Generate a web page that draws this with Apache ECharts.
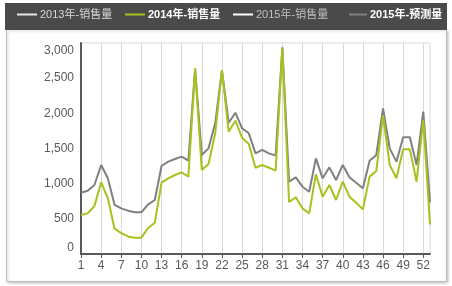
<!DOCTYPE html>
<html>
<head>
<meta charset="utf-8">
<script src="https://cdn.jsdelivr.net/npm/echarts@6/dist/echarts.min.js"></script>
<style>
html,body{margin:0;padding:0;background:#fff;}
#chart{width:452px;height:286px;}
</style>
</head>
<body>
<div id="chart"></div>
<script>
var weeks = ['1','2','3','4','5','6','7','8','9','10','11','12','13','14','15','16','17','18','19','20','21','22','23','24','25','26','27','28','29','30','31','32','33','34','35','36','37','38','39','40','41','42','43','44','45','46','47','48','49','50','51','52','53'];
var seriesNames = ['2013年-销售量', '2014年-销售量', '2015年-销售量', '2015年-预测量'];
var sales2013 = [];
var sales2014 = [555,578,682,1020,792,360,298,250,232,232,370,445,1014,1076,1123,1161,1100,2640,1194,1280,1716,2616,1739,1896,1654,1564,1227,1265,1227,1185,2924,740,806,649,578,1133,815,981,768,1028,815,730,635,1100,1180,1976,1265,1076,1488,1488,1028,1905,420];
var sales2015 = [];
var forecast2015 = [872,900,981,1265,1076,700,649,616,595,592,705,768,1251,1313,1351,1384,1327,2630,1408,1502,1858,2616,1867,2009,1787,1716,1431,1479,1431,1398,2940,1028,1090,957,886,1360,1076,1232,1052,1265,1090,1014,934,1327,1408,2071,1502,1313,1659,1659,1265,2024,735];

var font = '"Liberation Sans", Arial, "Noto Sans CJK SC", sans-serif';
var chart = echarts.init(document.getElementById('chart'), null, {renderer: 'canvas'});

function fmt(v){ return v.toString().replace(/\B(?=(\d{3})+(?!\d))/g, ','); }

var legendLefts = [17, 125, 233, 349];
var legendText = [
  {color: '#d9d9d9', fontWeight: 'normal'},
  {color: '#ffffff', fontWeight: 'bold'},
  {color: '#bfbfbf', fontWeight: 'normal'},
  {color: '#ffffff', fontWeight: 'bold'}
];
var legendIcon = ['#e6e6e6', '#a5c21e', '#ffffff', '#808080'];
var legends = seriesNames.map(function(n, i){
  return {
    top: 9, left: legendLefts[i], padding: 0,
    itemWidth: i === 3 ? 18 : 20, itemHeight: 2, itemGap: 0,
    icon: 'rect',
    textStyle: {fontSize: 11, fontFamily: font, color: legendText[i].color, fontWeight: legendText[i].fontWeight, padding: [0, 0, 0, -2]},
    data: [{name: n, itemStyle: {color: legendIcon[i]}}]
  };
});

chart.setOption({
  animation: false,
  textStyle: {fontFamily: font},
  graphic: [
    {type: 'rect', z: -10, shape: {x: 6.5, y: 29.5, width: 440, height: 252}, style: {fill: '#fff', stroke: '#bfbfbf', lineWidth: 1, shadowBlur: 3, shadowColor: 'rgba(0,0,0,0.25)', shadowOffsetX: 1, shadowOffsetY: 1}},
    {type: 'rect', z: -9, shape: {x: 5, y: 3, width: 442, height: 27}, style: {fill: '#4a4a4a'}}
  ],
  legend: legends,
  grid: {left: 81, right: 22, top: 43, bottom: 32, show: true, borderColor: '#d9d9d9', borderWidth: 1, containLabel: false},
  xAxis: {
    type: 'category', data: weeks, boundaryGap: false,
    axisLine: {lineStyle: {color: '#595959', width: 2}},
    axisTick: {show: true, interval: 2, length: 4, lineStyle: {color: '#595959'}},
    axisLabel: {interval: 2, color: '#595959', fontSize: 12, margin: 6},
    splitLine: {show: true, interval: 2, lineStyle: {color: '#d9d9d9', width: 1}}
  },
  yAxis: {
    type: 'value', min: 0, max: 3000, interval: 500,
    axisLine: {show: true, lineStyle: {color: '#595959', width: 2}},
    axisTick: {show: false},
    splitLine: {show: false},
    axisLabel: {color: '#595959', fontSize: 12, margin: 7, formatter: function(v){ return fmt(v); },
      verticalAlignMinLabel: 'bottom', verticalAlignMaxLabel: 'top', padding: [2, 0, 0, 0]}
  },
  series: [
    {name: seriesNames[0], type: 'line', data: sales2013, showSymbol: false, symbol: 'none', itemStyle: {color: '#e6e6e6'}, lineStyle: {color: '#e6e6e6', width: 2}},
    {name: seriesNames[1], type: 'line', data: sales2014, showSymbol: false, symbol: 'none', z: 4, itemStyle: {color: '#a5c21e'}, lineStyle: {color: '#a5c21e', width: 2}},
    {name: seriesNames[2], type: 'line', data: sales2015, showSymbol: false, symbol: 'none', itemStyle: {color: '#ffffff'}, lineStyle: {color: '#ffffff', width: 2}},
    {name: seriesNames[3], type: 'line', data: forecast2015, showSymbol: false, symbol: 'none', z: 3, itemStyle: {color: '#808080'}, lineStyle: {color: '#808080', width: 2}}
  ]
});
</script>
</body>
</html>
